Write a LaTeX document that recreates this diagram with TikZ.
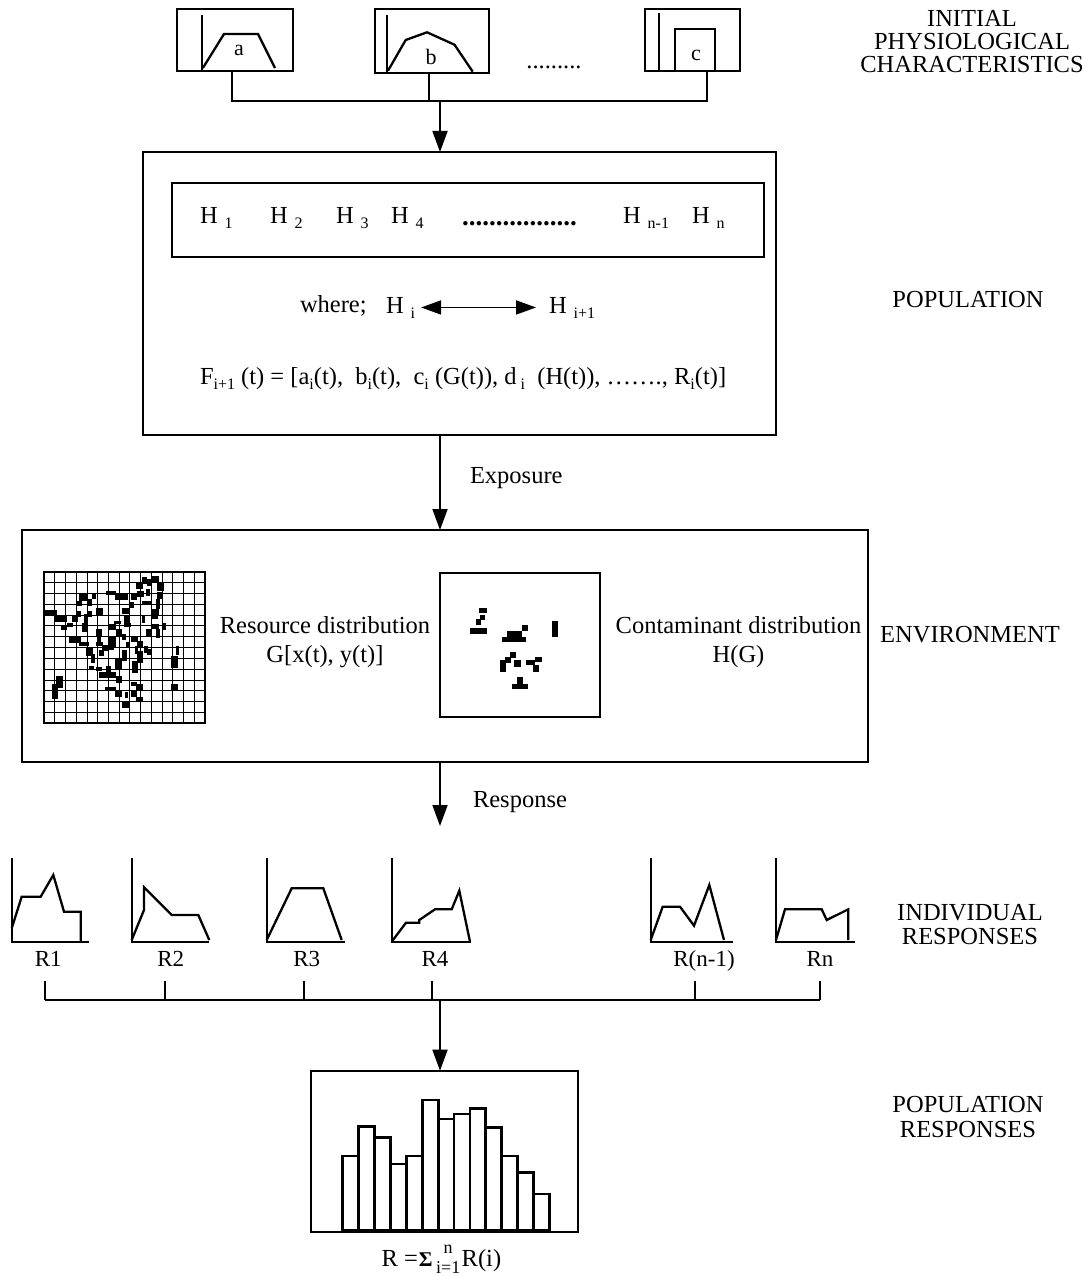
\documentclass[tikz,border=0pt]{standalone}
\usepackage{fontspec}
\setmainfont{Liberation Serif}
\usetikzlibrary{arrows.meta}
\newcommand\lo[2][5pt]{\raisebox{-#1}{\fontsize{16}{16}\selectfont #2}}
\newcommand\fs[1]{\fontsize{#1}{#1}\selectfont}
\begin{document}
\begin{tikzpicture}[x=1pt,y=-1pt,
  every node/.style={inner sep=0pt,outer sep=0pt},
  txt/.style={font=\fs{24.5}},
  rlab/.style={font=\fs{23},anchor=base},
  frame/.style={draw,line width=1.8pt,anchor=north west},
  conn/.style={line width=1.8pt},
  arr/.style={conn,-{Triangle[length=21pt,width=15pt]}},
  darr/.style={line width=1.8pt,{Triangle[length=20pt,width=14pt]}-{Triangle[length=20pt,width=14pt]}},
  plot/.style={line width=2.3pt,line join=miter},
  bar/.style={draw,line width=2.8pt,fill=white}]
\useasboundingbox (0,0) rectangle (1090,1276);
\coordinate (ax) at (440,0);

% ---- initial physiological characteristics
\node[frame,minimum width=116pt,minimum height=61.4pt] (ba) at (177,9.3) {};
\node[frame,minimum width=114pt,minimum height=64pt] (bb) at (375,9.3) {};
\node[frame,minimum width=95pt,minimum height=61.4pt] (bc) at (645,9.3) {};
\draw[plot] (202,15) -- (202,70.7);
\draw[plot] (202.9,68) -- (224,34) -- (258,34) -- (275,68);
\node[font=\fs{22}] (la) at (239,50) {a};
\draw[plot] (387,15) -- (387,72.5);
\draw[plot] (388,70.7) -- (405.7,40) -- (427,32.3) -- (454.5,44.7) -- (472.7,71.7);
\node[font=\fs{22}] (lb) at (431,56.7) {b};
\draw[plot] (659,12.7) -- (659,70.7);
\draw[plot] (675,70.7) -- (675,29.3) -- (715,29.3) -- (715,70.7);
\node[font=\fs{22}] (lc) at (696,55) {c};
\node[txt,anchor=base] (tdots) at (554,69) {.........};

\coordinate (ja) at (232,100.7);
\coordinate (jb) at (429,100.7);
\coordinate (jc) at (707,100.7);
\coordinate (jm) at (440,100.7);
\draw[conn] (ba.south -| ja) -- (ja) -- (jc) -- (bc.south -| jc);
\draw[conn] (bb.south -| jb) -- (jb);

% ---- population
\node[frame,minimum width=633pt,minimum height=283pt] (pop) at (143,152) {};
\draw[arr] (jm) -- (pop.north -| jm);
\node[frame,minimum width=591.6pt,minimum height=74.3pt] (hrow) at (172,182.7) {};
\node[txt,anchor=base west] (h1) at (200,223) {H\hspace{7pt}\lo{1}};
\node[txt,anchor=base west] (h2) at (270,223) {H\hspace{7pt}\lo{2}};
\node[txt,anchor=base west] (h3) at (336,223) {H\hspace{7pt}\lo{3}};
\node[txt,anchor=base west] (h4) at (391,223) {H\hspace{7pt}\lo{4}};
\node[font=\fs{27}\bfseries,anchor=base] (hdots) at (519.5,225) {.................};
\node[txt,anchor=base west] (hn1) at (623,223) {H\hspace{7pt}\lo{n-1}};
\node[txt,anchor=base west] (hn) at (692,223) {H\hspace{7pt}\lo{n}};

\node[txt,anchor=base west] (where) at (300,312) {where;};
\node[txt,anchor=base west] (hi) at (386,313) {H\hspace{7pt}\lo{i}};
\node[txt,anchor=base west] (hip) at (549,313) {H\hspace{7pt}\lo{i+1}};
\draw[darr,shorten <=6pt,shorten >=13pt] (hi.east) -- (hip.west);

\node[txt,anchor=base west] (ff) at (200,384) {F\lo{i+1} (t) = [a\lo{i}(t),\ \ b\lo{i}(t),\ \ c\lo{i} (G(t)), d\lo{\ i}\ \ (H(t)), ……., R\lo{i}(t)]};

% ---- environment
\node[frame,minimum width=846pt,minimum height=232pt] (env) at (22,530) {};
\draw[arr] (pop.south -| ax) -- (env.north -| ax);
\node[txt,anchor=west] (lexp) at (470,478) {Exposure};

\node[frame,minimum width=161pt,minimum height=151.6pt] (grid) at (44,571.7) {};
\foreach \i in {1,...,14} \draw[line width=0.8pt] (44+\i*10.733,571.7) -- ++(0,151.6);
\foreach \j in {1,...,13} \draw[line width=0.8pt] (44,571.7+\j*10.83) -- ++(161,0);
\begin{scope}[shift={(30,560)},x=0.3333pt,y=-0.3333pt]
\foreach \a/\b/\c/\d in {370/50/383/62, 340/55/348/70, 320/68/335/85, 355/60/362/75,
  385/72/400/90, 230/97/255/102, 150/103/168/120, 190/105/196/115, 258/105/290/118,
  305/105/318/118, 325/95/340/108, 350/90/358/105, 385/100/393/115, 145/125/152/135,
  175/120/182/135, 300/128/310/140, 340/125/360/130, 380/120/388/145, 48/152/78/162,
  200/148/215/165, 280/148/295/158, 370/150/385/162, 145/155/150/168, 175/155/182/168,
  78/170/108/182, 128/170/142/184, 165/165/172/185, 255/185/270/190, 285/168/295/185,
  338/170/342/185, 370/170/382/175, 95/200/108/207, 115/192/125/198, 160/193/172/212,
  240/195/255/208, 285/192/300/198, 370/195/385/205, 400/192/405/208, 352/210/360/225,
  382/210/387/230, 200/210/212/225, 262/210/272/228, 280/225/285/238, 120/232/150/246,
  205/232/210/242, 240/232/255/260, 305/234/320/242, 325/245/335/258, 150/250/175/256,
  200/250/215/256, 218/258/235/270, 235/260/250/268, 170/268/185/285, 290/250/298/258,
  318/262/322/280, 345/262/350/275, 355/270/362/282, 440/262/445/283, 185/285/192/305,
  210/272/218/285, 280/272/288/300, 325/275/335/305, 425/290/440/320, 258/300/272/328,
  308/305/320/335, 180/322/190/328, 200/325/212/330, 232/322/240/332, 210/340/255/352,
  260/352/272/365, 82/352/95/382, 68/375/80/415, 305/368/318/375, 320/375/335/390,
  228/385/255/390, 258/393/272/408, 288/398/292/410, 305/392/318/408, 425/375/440/390,
  320/415/335/422, 280/430/295/440}
  \fill (\a-3,\b-3) rectangle (\c+3,\d+3);
\end{scope}
\node[txt,align=center,font=\fontsize{24.5}{29}\selectfont] (res) at (325,642.5) {Resource distribution\\G[x(t), y(t)]};

\node[frame,minimum width=160pt,minimum height=144pt] (cont) at (440,573) {};
\begin{scope}[shift={(420,560)},x=0.3333pt,y=-0.3333pt]
\foreach \a/\b/\c/\d in {178/145/200/160, 180/165/195/180, 168/178/183/195, 150/205/200/222,
  262/212/305/232, 247/230/318/246, 305/195/325/212, 397/183/413/232,
  270/275/287/295, 255/290/272/308, 240/300/257/336, 282/300/302/320,
  318/300/345/316, 345/290/365/305, 340/315/358/335, 292/352/308/372, 275/372/325/388}
  \fill (\a,\b) rectangle (\c,\d);
\end{scope}
\node[txt,align=center,font=\fontsize{24.5}{29}\selectfont] (ctext) at (738.5,642.5) {Contaminant distribution\\H(G)};

% ---- individual responses
\coordinate (rtip) at (440,826);
\draw[arr] (env.south -| ax) -- (rtip);
\node[txt,anchor=west] (lresp) at (473,801.7) {Response};

\draw[plot] (11.7,858) -- (11.7,941.7) -- (89.3,941.7);
\draw[plot] (11.7,928.3) -- (21.7,896.7) -- (40.7,896.7) -- (53.3,875) -- (64,911.7) -- (80.7,911.7) -- (80.7,941.7);
\draw[plot] (131.7,858) -- (131.7,941.7) -- (209.3,941.7);
\draw[plot] (131.7,940) -- (144,910) -- (144,887.3) -- (171.7,915) -- (198.3,915) -- (209.3,940);
\draw[plot] (266.7,858) -- (266.7,941.7) -- (345,941.7);
\draw[plot] (266.7,940) -- (291.7,888.3) -- (323.3,888.3) -- (341.7,940);
\draw[plot] (391.7,858) -- (391.7,941.7) -- (470.7,941.7);
\draw[plot] (391.7,941.7) -- (406,922.7) -- (419.3,922.7) -- (419.3,920) -- (435,909.3) -- (451.7,909.3) -- (459.3,890.7) -- (470,941.7);
\draw[plot] (650.7,858) -- (650.7,941.7) -- (732.7,941.7);
\draw[plot] (650.7,940) -- (662.7,906.7) -- (680,906.7) -- (694,925.7) -- (709.3,885) -- (724,940);
\draw[plot] (776,858) -- (776,941.7) -- (855,941.7);
\draw[plot] (776,940) -- (785,909.3) -- (821.7,909.3) -- (826.7,920) -- (848.3,909.3) -- (848.3,940);

\node[rlab] (r1) at (48.3,966) {R1};
\node[rlab] (r2) at (170.7,966) {R2};
\node[rlab] (r3) at (306.7,966) {R3};
\node[rlab] (r4) at (435,966) {R4};
\node[rlab] (rn1) at (704,966) {R(n-1)};
\node[rlab] (rn) at (820,966) {Rn};

\coordinate (bl) at (44.8,1000);
\coordinate (br) at (819.7,1000);
\foreach \n/\x in {t1/44.8,t2/165.3,t3/304.3,t4/431.7,t5/694.6,t6/819.7}
  \coordinate (\n) at (\x,981);
\draw[conn] (bl) -- (br);
\foreach \n in {t1,t2,t3,t4,t5,t6} \draw[conn] (\n) -- (\n |- bl);

% ---- population responses
\node[frame,minimum width=267.6pt,minimum height=161pt] (hist) at (310.7,1070.7) {};
\draw[arr] (bl -| ax) -- (hist.north -| ax);
\foreach \k/\t in {0/1156,1/1126.7,2/1137.7,3/1164,4/1156,5/1100,6/1119,7/1114,8/1108.3,9/1127.3,10/1156,11/1172.3,12/1194}
  \draw[bar] (342.7+\k*15.9,1231.7) rectangle ++(15.9,\t-1231.7);
\draw[line width=3pt] (342.7,1230.5) -- (549.3,1230.5);
\node[txt,anchor=base west] (sumf) at (381.7,1266) {R =\hspace{1pt}{\fs{21}\bfseries Σ}\hspace{2pt}\raisebox{13pt}{\makebox[0pt][l]{\makebox[27pt]{\fs{18}n}}}\raisebox{-7pt}{\makebox[27pt]{\fs{18}i=1}}R(i)};

% ---- stage labels
\node[txt,align=center,font=\fontsize{24.5}{23}\selectfont] (sinit) at (972,41.7) {INITIAL\\PHYSIOLOGICAL\\CHARACTERISTICS};
\node[txt] (spop) at (968,300) {POPULATION};
\node[txt] (senv) at (970,635) {ENVIRONMENT};
\node[txt,align=center,font=\fontsize{24.5}{24}\selectfont] (sind) at (970,925) {INDIVIDUAL\\RESPONSES};
\node[txt,align=center,font=\fontsize{24.5}{25}\selectfont] (sprs) at (968,1117) {POPULATION\\RESPONSES};
\end{tikzpicture}
\end{document}
